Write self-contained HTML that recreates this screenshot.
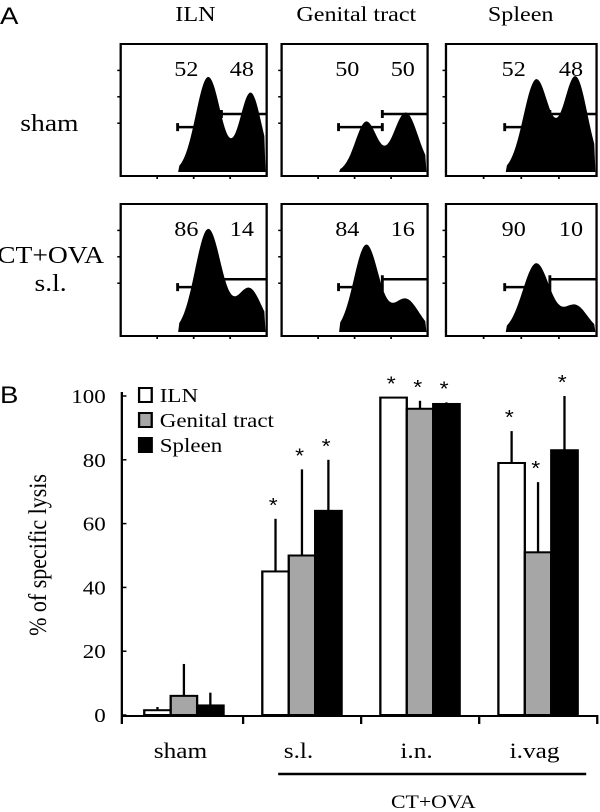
<!DOCTYPE html>
<html><head><meta charset="utf-8">
<style>
html,body{margin:0;padding:0;background:#fff;}
svg{display:block;}
text{font-family:"Liberation Serif",serif;fill:#000;}
.sans{font-family:"Liberation Sans",sans-serif;}
</style></head>
<body>
<svg id="fig" width="600" height="812" viewBox="0 0 522 812" preserveAspectRatio="none">
<text class="sans" x="0" y="24" font-size="24">A</text>
<text x="170" y="21" font-size="21" text-anchor="middle">ILN</text>
<text x="310" y="21" font-size="21" text-anchor="middle">Genital tract</text>
<text x="453" y="21" font-size="21" text-anchor="middle">Spleen</text>
<text x="43" y="131" font-size="24" text-anchor="middle">sham</text>
<text x="44" y="263" font-size="24" text-anchor="middle">CT+OVA</text>
<text x="44" y="291" font-size="24" text-anchor="middle">s.l.</text>
<g id="hists"></g>
<text class="sans" x="0" y="403" font-size="24">B</text>
<g id="bars"></g>
</svg>
<script>
const NS="http://www.w3.org/2000/svg";
function mk(tag,attrs,parent){const e=document.createElementNS(NS,tag);for(const k in attrs)e.setAttribute(k,attrs[k]);parent.appendChild(e);return e;}

// ---------- Panel A histograms ----------
const histLeftPct=["52","50","52","86","84","90"];
const histRightPct=["48","50","48","14","16","10"];
// peaks: [center fraction, height fraction, sd fraction]
const histPeaks1=[[0.6,0.72,0.085],[0.58,0.38,0.075],[0.6,0.7,0.085],[0.6,0.78,0.09],[0.58,0.66,0.085],[0.6,0.52,0.09]];
const histPeaks2=[[0.89,0.6,0.075],[0.85,0.45,0.085],[0.86,0.72,0.08],[0.88,0.33,0.085],[0.85,0.25,0.09],[0.86,0.2,0.08]];
const gateLeftY=[0.63,0.63,0.63,0.63,0.63,0.63];
const gateRightY=[0.53,0.53,0.53,0.57,0.57,0.57];

const cols=[[105,232],[245,372],[388,519]];
const rows=[[44,176],[204,336]];
const H=document.getElementById('hists');
for(let i=0;i<6;i++){
  const c=cols[i%3], r=rows[Math.floor(i/3)];
  const x0=c[0],x1=c[1],y0=r[0],y1=r[1],w=x1-x0,h=y1-y0;
  const g=mk('g',{},H);
  
  
  const base=y1-4;
  let pts=[];
  const p1=histPeaks1[i],p2=histPeaks2[i];
  for(let px=0;px<=w;px+=1){
    const f=px/w;
    let v=p1[1]*Math.exp(-((f-p1[0])**2)/(2*p1[2]*p1[2]))+p2[1]*Math.exp(-((f-p2[0])**2)/(2*p2[2]*p2[2]));
    if(f<0.4||f>0.99)v=0;
    const yy=base-v*h;
    pts.push((x0+px)+','+yy.toFixed(1));
  }
  const poly=mk('polygon',{points:x0+','+base+' '+pts.join(' ')+' '+x1+','+base,fill:'#000'},g);
  
  
  const box=mk('rect',{x:x0,y:y0,width:w,height:h,fill:'none',stroke:'#000','stroke-width':2},g);
  
  
  for(let k=1;k<4;k++){
    mk('line',{x1:x0+w*k/4,x2:x0+w*k/4,y1:y1,y2:y1+3,stroke:'#000','stroke-width':1.5},g);
    mk('line',{x1:x0,x2:x0-3,y1:y0+h*k/5,y2:y0+h*k/5,stroke:'#000','stroke-width':1.5},g);
  }
  const gl=y0+gateLeftY[i]*h, gr=y0+gateRightY[i]*h;
  const gx0=x0+0.39*w,gx1=x0+0.69*w,gx2=x1;
  const gate1=mk('path',{d:`M${gx0},${gl-4}V${gl+4}M${gx0},${gl}H${gx1}M${gx1},${gl-4}V${gl+4}`,stroke:'#000','stroke-width':2.5,fill:'none'},g);
  
  
  const gate2=mk('path',{d:`M${gx1},${gr-4}V${gr+4}M${gx1},${gr}H${gx2}`,stroke:'#000','stroke-width':2.5,fill:'none'},g);
  
  
  const t1=mk('text',{x:x0+w*0.45,y:y0+32,'font-size':21,'text-anchor':'middle'},g);t1.textContent=histLeftPct[i];
  
  
  const t2=mk('text',{x:x0+w*0.83,y:y0+32,'font-size':21,'text-anchor':'middle'},g);t2.textContent=histRightPct[i];
  
  
}

// ---------- Panel B bar chart ----------
const groups=["sham","s.l.","i.n.","i.vag"];
const seriesNames=["ILN","Genital tract","Spleen"];
const ilnVals=[1.5,45,99.5,79];
const gtVals=[6,50,96,51];
const spVals=[3,64,97.5,83];
const ilnErr=[2.5,61.5,99.5,89];
const gtErr=[16,77,98.5,73];
const spErr=[7,80,98,100];
const ilnStar=[false,true,true,true];
const gtStar=[false,true,true,true];
const spStar=[false,true,true,true];
const yTicks=[0,20,40,60,80,100];

const B=document.getElementById('bars');
const axX=106, y0px=715, pxPerUnit=3.19;
const yScale=v=>y0px-v*pxPerUnit;
const groupCenter=i=>160+i*102.7;
const barW=23;
const colors=["#fff","#a6a6a6","#000"];
const vals=[ilnVals,gtVals,spVals], errs=[ilnErr,gtErr,spErr], stars=[ilnStar,gtStar,spStar];

const yax=mk('line',{x1:axX,x2:axX,y1:392,y2:724,stroke:'#000','stroke-width':2},B);


yTicks.forEach(t=>{
  const y=yScale(t);
  mk('line',{x1:axX,x2:axX+4,y1:y,y2:y,stroke:'#000','stroke-width':1.5},B);
  const tx=mk('text',{x:92,y:y+7,'font-size':20,'text-anchor':'end'},B);tx.textContent=t;
  
  
});
const yt=mk('text',{x:0,y:0,'font-size':22,'text-anchor':'middle',transform:'translate(40,555) rotate(-90)'},B);
yt.textContent='% of specific lysis';



const xax=mk('line',{x1:axX,x2:groupCenter(groups.length-1)+52,y1:y0px+1,y2:y0px+1,stroke:'#000','stroke-width':2},B);


for(let i=0;i<groups.length;i++){
  const x=groupCenter(i)+51.5;
  mk('line',{x1:x,x2:x,y1:y0px,y2:y0px+9,stroke:'#000','stroke-width':2},B);
}
groups.forEach((gname,i)=>{
  const t=mk('text',{x:groupCenter(i)-3,y:758,'font-size':22,'text-anchor':'middle'},B);t.textContent=gname;
  
  
});
const br=mk('line',{x1:242,x2:510,y1:774,y2:774,stroke:'#000','stroke-width':2.5},B);


const ct=mk('text',{x:377,y:808,'font-size':19,'text-anchor':'middle'},B);ct.textContent='CT+OVA';



for(let s=0;s<3;s++){
  for(let i=0;i<groups.length;i++){
    const x=groupCenter(i)-1.5*barW+s*barW;
    const v=vals[s][i], e=errs[s][i];
    const xm=x+barW/2;
    const eb=mk('line',{x1:xm,x2:xm,y1:yScale(v),y2:yScale(e),stroke:'#000','stroke-width':2},B);
    
    
    const r=mk('rect',{x:x,y:yScale(v),width:barW,height:y0px-yScale(v),fill:colors[s],stroke:'#000','stroke-width':2},B);
    
    
    if(stars[s][i]){
      const st=mk('text',{x:xm-2,y:yScale(Math.max(v,e))-7,'font-size':20,'text-anchor':'middle',class:'sans'},B);
      st.textContent='*';
      
      
    }
  }
}
seriesNames.forEach((n,s)=>{
  const y=388+s*25;
  const r=mk('rect',{x:121,y:y,width:11,height:14,fill:colors[s],stroke:'#000','stroke-width':2},B);
  
  
  const t=mk('text',{x:139,y:y+14,'font-size':20},B);t.textContent=n;
  
  
});
</script>
</body></html>
